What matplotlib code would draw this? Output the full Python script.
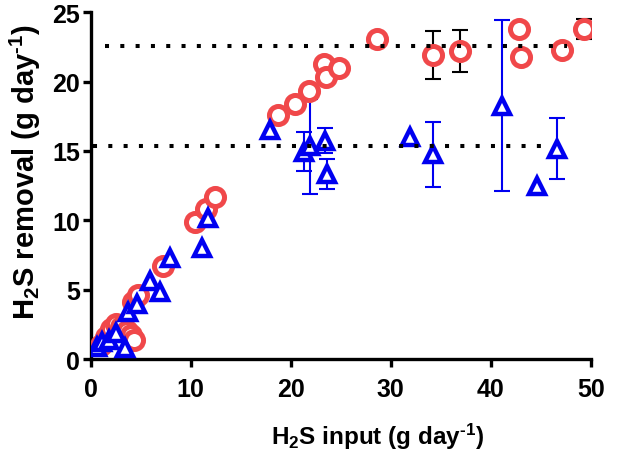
import numpy as np
import matplotlib
matplotlib.use('Agg')
import matplotlib.pyplot as plt

plt.rcParams['font.family'] = ['Liberation Sans', 'DejaVu Sans']
plt.rcParams['font.weight'] = 'bold'
plt.rcParams['mathtext.fontset'] = 'custom'
plt.rcParams['mathtext.rm'] = 'Liberation Sans:bold'
plt.rcParams['mathtext.default'] = 'rm'

# red circles: x, y, sd (0 = no bar)
red_x = [1.0, 1.5, 2.0, 2.5, 3.0, 3.6, 4.0, 4.3, 4.2, 4.7, 7.2, 10.4, 11.5, 12.4,
         18.7, 20.4, 21.8, 23.3, 23.5, 24.8, 28.6, 34.2, 36.9, 42.8, 43.0, 47.1, 49.3]
red_y = [1.0, 1.6, 2.2, 2.5, 2.3, 2.0, 1.7, 1.4, 4.1, 4.6, 6.7, 9.9, 10.8, 11.7,
         17.6, 18.4, 19.3, 21.3, 20.3, 21.0, 23.1, 21.9, 22.2, 23.8, 21.8, 22.3, 23.8]
red_err = [0] * 21 + [1.72, 1.49, 0, 0, 0, 0.72]

# blue triangles
blue_x = [0.6, 1.1, 1.8, 2.5, 3.4, 3.7, 4.6, 5.9, 6.9, 7.9, 11.1, 11.7,
          17.9, 21.3, 21.9, 23.4, 23.6, 31.9, 34.2, 41.1, 44.6, 46.6]
blue_y = [0.9, 1.2, 1.4, 1.9, 0.8, 3.4, 4.0, 5.6, 4.8, 7.3, 8.0, 10.2,
          16.5, 14.96, 15.33, 15.74, 13.34, 16.0, 14.77, 18.28, 12.5, 15.17]
blue_err = [0] * 13 + [1.38, 3.43, 0.9, 1.1, 0, 2.35, 6.19, 0, 2.21]

# plateau levels (mean removal)
red_level = 22.55
blue_level = 15.38

fig = plt.figure(figsize=(6.25, 4.56), dpi=100)
ax = fig.add_axes([0.145, 0.2105, 0.8005, 0.7603])

red = '#F0484A'
blue = '#0000F0'

rx, ry, re = np.array(red_x), np.array(red_y), np.array(red_err)
bx, by, be = np.array(blue_x), np.array(blue_y), np.array(blue_err)

m = re > 0
ax.errorbar(rx[m], ry[m], yerr=re[m], fmt='none', ecolor='black', elinewidth=1.5,
            capsize=6, capthick=1.5, zorder=2)
m = be > 0
ax.errorbar(bx[m], by[m], yerr=be[m], fmt='none', ecolor=blue, elinewidth=1.5,
            capsize=6, capthick=1.5, zorder=2)

ax.plot(rx, ry, 'o', ms=13, mfc='white', mec=red, mew=3.6, ls='none', zorder=3)
ax.plot(bx, by, '^', ms=11, mfc='white', mec=blue, mew=3.2, ls='none', zorder=4)

ax.plot([1.4, 47.6], [red_level, red_level], color='black', lw=2.9,
        ls=(0, (1, 2.8)), dash_capstyle='butt', zorder=5)
ax.plot([0.2, 45.6], [blue_level, blue_level], color='black', lw=2.9,
        ls=(0, (1, 2.8)), dash_capstyle='butt', zorder=5)

ax.set_xlim(0, 50)
ax.set_ylim(0, 25)
ax.set_xticks(range(0, 51, 10))
ax.set_yticks(range(0, 26, 5))
for s in ['top', 'right']:
    ax.spines[s].set_visible(False)
for s in ['left', 'bottom']:
    ax.spines[s].set_linewidth(2.4)
ax.tick_params(axis='both', width=2.4, length=6, labelsize=18)
ax.tick_params(axis='x', pad=7)
ax.tick_params(axis='y', pad=1.5)

ax.set_xlabel(r'H$_2$S input (g day$^{\text{-1}}$)', fontsize=17.5, fontweight='bold',
              va='center')
ax.set_ylabel(r'H$_2$S removal (g day$^{\text{-1}}$)', fontsize=21, fontweight='bold',
              va='center')
ax.xaxis.set_label_coords(0.573, -0.222)
ax.yaxis.set_label_coords(-0.131, 0.542)

fig.savefig('out.png', dpi=100)
